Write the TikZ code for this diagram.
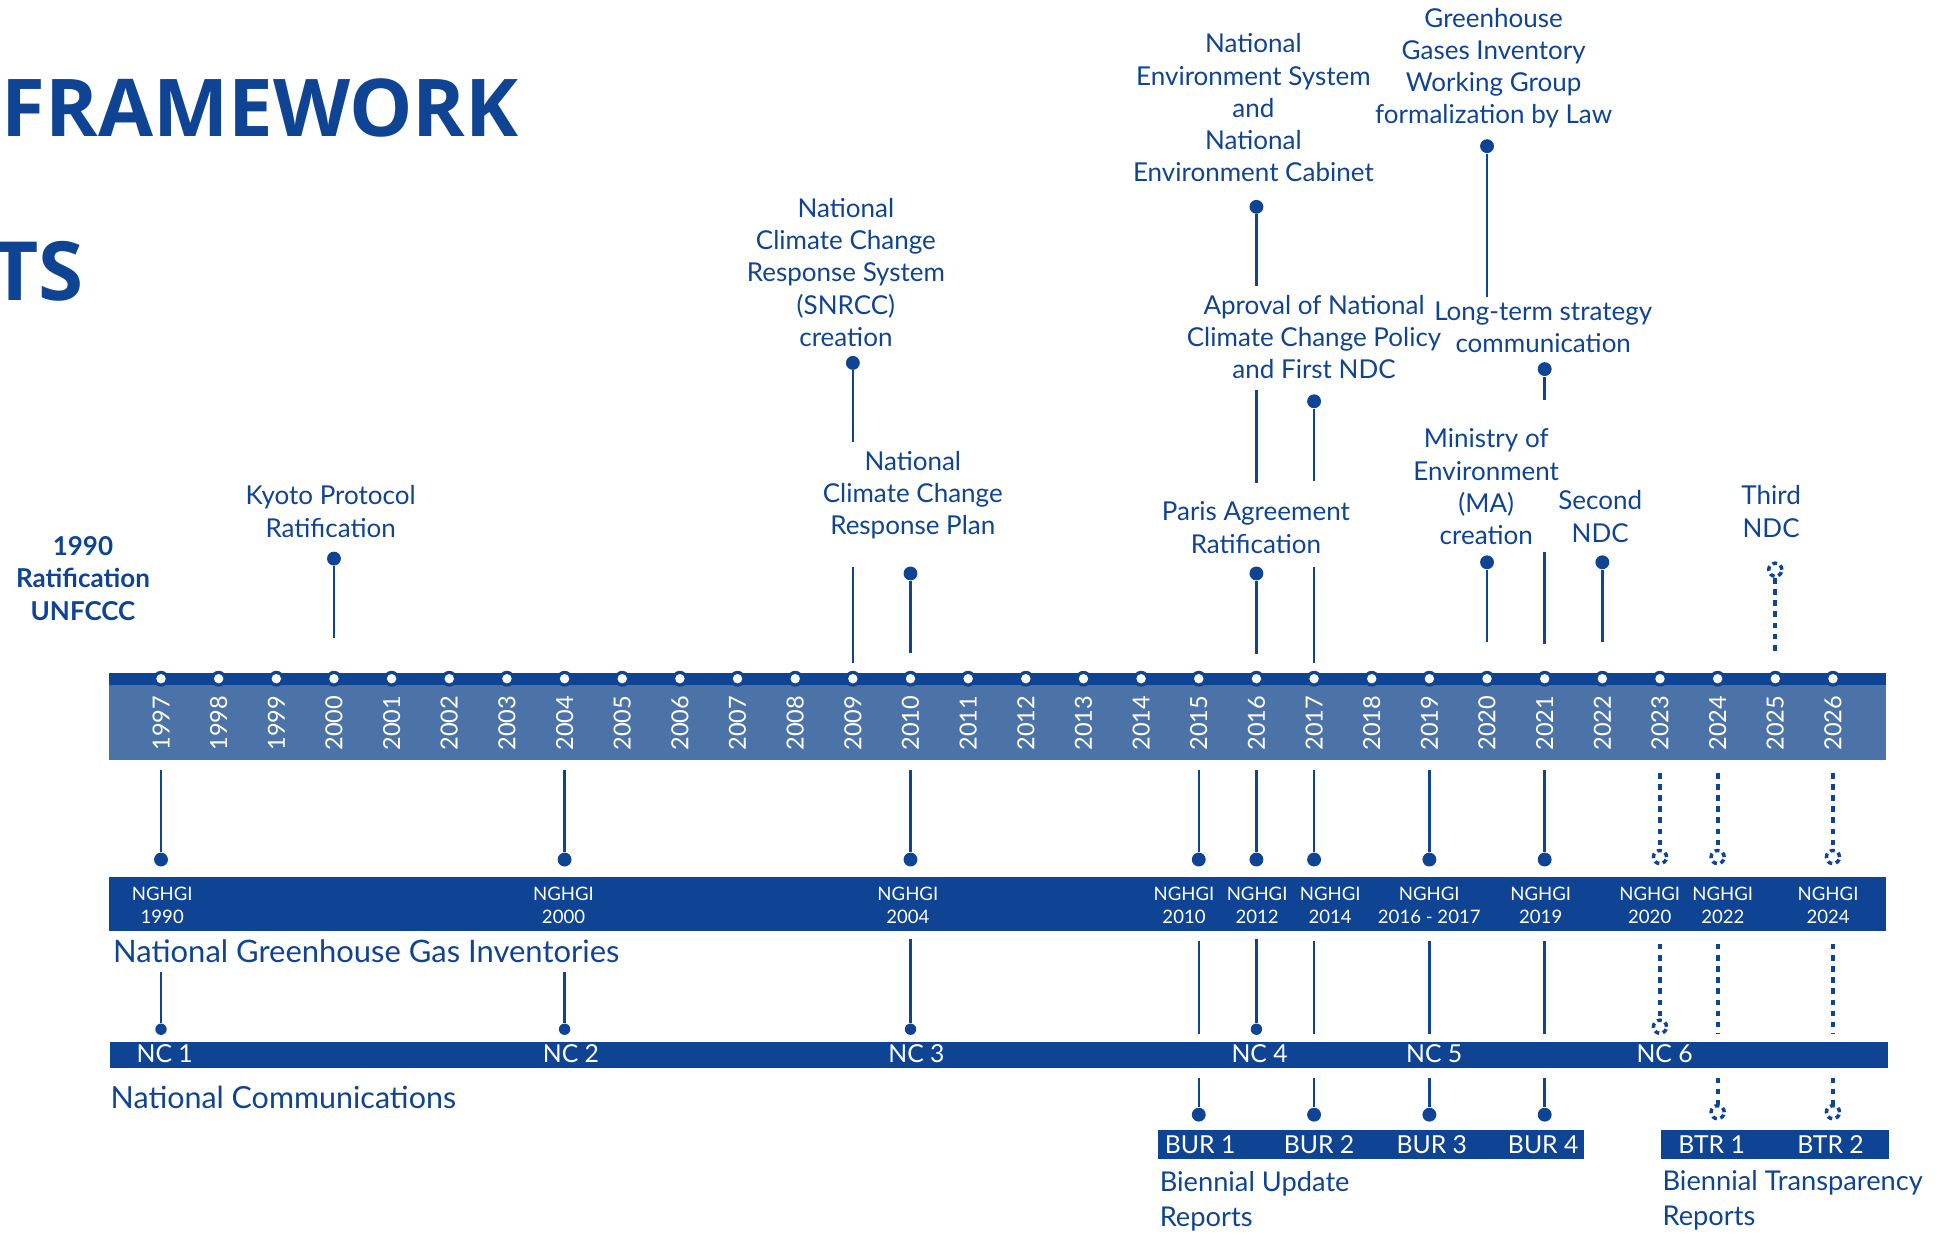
\documentclass[tikz,border=0pt]{standalone}
\usepackage{fontspec}
\setmainfont{Lato}
\newfontfamily\headfont{Open Sans}
\usetikzlibrary{positioning,calc}
\definecolor{navy}{RGB}{15,68,148}
\definecolor{bandblue}{RGB}{76,115,168}
\tikzset{%
       evtext/.style = { text=navy, align=center, font=\fontsize{10.5}{13}\selectfont },
        evdot/.style = { circle, fill=navy, inner sep=0pt, minimum size=5.6pt },
       futdot/.style = { circle, draw=navy, line width=1.4pt, dash pattern=on 1.9pt off 1.5pt, inner sep=0pt, minimum size=5.3pt },
         stem/.style = { draw=navy, line width=1pt },
        fstem/.style = { draw=navy, line width=1.5pt, dash pattern=on 2.3pt off 2.2pt },
      yeartxt/.style = { text=white, rotate=90, inner sep=0pt, font=\fontsize{9.5}{10}\selectfont },
       bartxt/.style = { text=white, align=center, inner sep=0pt, font=\fontsize{7.5}{9}\selectfont },
        nctxt/.style = { text=white, inner sep=0pt, font=\fontsize{10}{12}\selectfont },
    seriestxt/.style = { text=navy, anchor=west, inner sep=0pt, align=left }
}

\begin{document}
\begin{tikzpicture}[x=0.5pt,y=-0.5pt]
\useasboundingbox (0,0) rectangle (1568,997);
% title fragments
\node[anchor=base west, inner sep=0pt, text=navy, font=\headfont\bfseries\fontsize{32.2}{36}\selectfont] (title1) at (1,110) {FRAMEWORK};
\node[anchor=base east, inner sep=0pt, text=navy, font=\headfont\bfseries\fontsize{33}{36}\selectfont] (title2) at (68,243) {TS};
% year band
\fill[bandblue] (88,553) rectangle (1523,614);
\fill[navy] (88,543) rectangle (1523,553);
\foreach \yr [count=\i from 0] in {1997,...,2026} {
  \coordinate (t\yr) at ({130+46.55*\i},548);
  \fill[navy] (t\yr) circle (3.2pt);
  \fill[white] (t\yr) circle (1.9pt);
  \node[yeartxt] (l\yr) at ({130+46.55*\i},584) {\yr};
}
% events above the band
\node[evtext, font=\bfseries\fontsize{10.5}{13}\selectfont] (unfccc) at (67,467) {1990\\Ratification\\UNFCCC};
\node[evtext] (kyoto) at (267,413) {Kyoto Protocol\\Ratification};
\node[evtext] (snrcc) at (683,220) {National\\Climate Change\\Response System\\(SNRCC)\\creation};
\node[evtext] (plan) at (737,400) {National\\Climate Change\\Response Plan};
\node[evtext] (envsys) at (1012,87) {National\\Environment System\\and\\National\\Environment Cabinet};
\node[evtext] (aproval) at (1061,272) {Aproval of National\\Climate Change Policy\\and First NDC};
\node[evtext] (paris) at (1014,426) {Paris Agreement\\Ratification};
\node[evtext] (ghgwg) at (1206,55) {Greenhouse\\Gases Inventory\\Working Group\\formalization by Law};
\node[evtext] (lts) at (1246,264) {Long-term strategy\\communication};
\node[evtext] (minist) at (1200,393) {Ministry of\\Environment\\(MA)\\creation};
\node[evtext] (secndc) at (1292,417) {Second\\NDC};
\node[evtext] (thirdndc) at (1430,413) {Third\\NDC};
\foreach \n/\yr/\a/\b in {kyoto/2000/451/515, snrcc/2009/293/357, plan/2010/463/527,
    envsys/2016/167/231, paris/2016/463/528, aproval/2017/324/388, ghgwg/2020/118/240,
    lts/2021/298/323, minist/2020/454/518, secndc/2022/454/518} {
  \node[evdot] (\n-d) at (t\yr |- 0,\a) {};
  \coordinate (\n-e) at (t\yr |- 0,\b);
  \draw[stem] (\n-d) -- (\n-e);
}
% line pieces running on behind the texts
\foreach \n/\yr/\a/\b in {s9/2009/458/535, s16/2016/315/390, s17/2017/458/535, s21/2021/446/520} {
  \coordinate (\n-a) at (t\yr |- 0,\a);
  \coordinate (\n-b) at (t\yr |- 0,\b);
  \draw[stem] (\n-a) -- (\n-b);
}
\node[futdot] (third-d) at (t2025 |- 0,460) {};
\coordinate (third-e) at (t2025 |- 0,528);
\draw[fstem] (third-d) -- (third-e);
% band -> NGHGI
\foreach \yr in {1997,2004,2010,2015,2016,2017,2019,2021} {
  \coordinate (g\yr-s) at (t\yr |- 0,622);
  \node[evdot] (g\yr-d) at (t\yr |- 0,694) {};
  \draw[stem] (g\yr-s) -- (g\yr-d);
}
\foreach \yr in {2023,2024,2026} {
  \coordinate (g\yr-s) at (t\yr |- 0,624);
  \node[futdot] (g\yr-d) at (t\yr |- 0,692) {};
  \draw[fstem] (g\yr-s) -- (g\yr-d);
}
\fill[navy] (88,708) rectangle (1523,752);
\foreach \x/\t [count=\k] in {131/1990, 455/2000, 733/2004, 956/2010, 1015/2012, 1074/2014,
    1154/2016 - 2017, 1244/2019, 1332/2020, 1391/2022, 1476/2024}
  \node[bartxt] (ng\k) at (\x,731) {NGHGI\\\t};
\node[seriestxt, font=\fontsize{12.5}{15}\selectfont] (nghgi) at (91,768) {National Greenhouse Gas Inventories};
% NGHGI -> NC
\foreach \yr/\a in {1997/785, 2004/785, 2010/758, 2016/758} {
  \coordinate (c\yr-s) at (t\yr |- 0,\a);
  \node[evdot, minimum size=4.6pt] (c\yr-d) at (t\yr |- 0,831) {};
  \draw[stem] (c\yr-s) -- (c\yr-d);
}
\foreach \yr in {2015,2017,2019,2021} {
  \coordinate (c\yr-s) at (t\yr |- 0,760);
  \coordinate (c\yr-e) at (t\yr |- 0,835);
  \draw[stem] (c\yr-s) -- (c\yr-e);
}
\coordinate (c2023-s) at (t2023 |- 0,762);
\node[futdot] (c2023-d) at (t2023 |- 0,829) {};
\draw[fstem] (c2023-s) -- (c2023-d);
\foreach \yr in {2024,2026} {
  \coordinate (c\yr-s) at (t\yr |- 0,762);
  \coordinate (c\yr-e) at (t\yr |- 0,835);
  \draw[fstem] (c\yr-s) -- (c\yr-e);
}
\fill[navy] (89,841) rectangle (1524,862);
\foreach \x/\t in {133/1, 461/2, 740/3, 1017/4, 1158/5, 1344/6}
  \node[nctxt] (nc\t) at (\x,851) {NC \t};
\node[seriestxt, font=\fontsize{12.3}{15}\selectfont] (ncs) at (89,886) {National Communications};
% NC -> BUR / BTR
\foreach \yr in {2015,2017,2019,2021} {
  \coordinate (b\yr-s) at (t\yr |- 0,870);
  \node[evdot] (b\yr-d) at (t\yr |- 0,900) {};
  \draw[stem] (b\yr-s) -- (b\yr-d);
}
\foreach \yr in {2024,2026} {
  \coordinate (b\yr-s) at (t\yr |- 0,870);
  \node[futdot] (b\yr-d) at (t\yr |- 0,898) {};
  \draw[fstem] (b\yr-s) -- (b\yr-d);
}
\fill[navy] (935,912) rectangle (1279,936);
\fill[navy] (1341,912) rectangle (1525,936);
\foreach \x/\t in {969/1, 1065/2, 1156/3, 1246/4}
  \node[nctxt] (bur\t) at (\x,924) {BUR \t};
\foreach \x/\t in {1382/1, 1478/2}
  \node[nctxt] (btr\t) at (\x,924) {BTR \t};
\node[seriestxt, font=\fontsize{11}{14}\selectfont] (burs) at (936,970) {Biennial Update\\Reports};
\node[seriestxt, font=\fontsize{11}{14}\selectfont] (btrs) at (1342,969) {Biennial Transparency\\Reports};
\end{tikzpicture}
\end{document}
